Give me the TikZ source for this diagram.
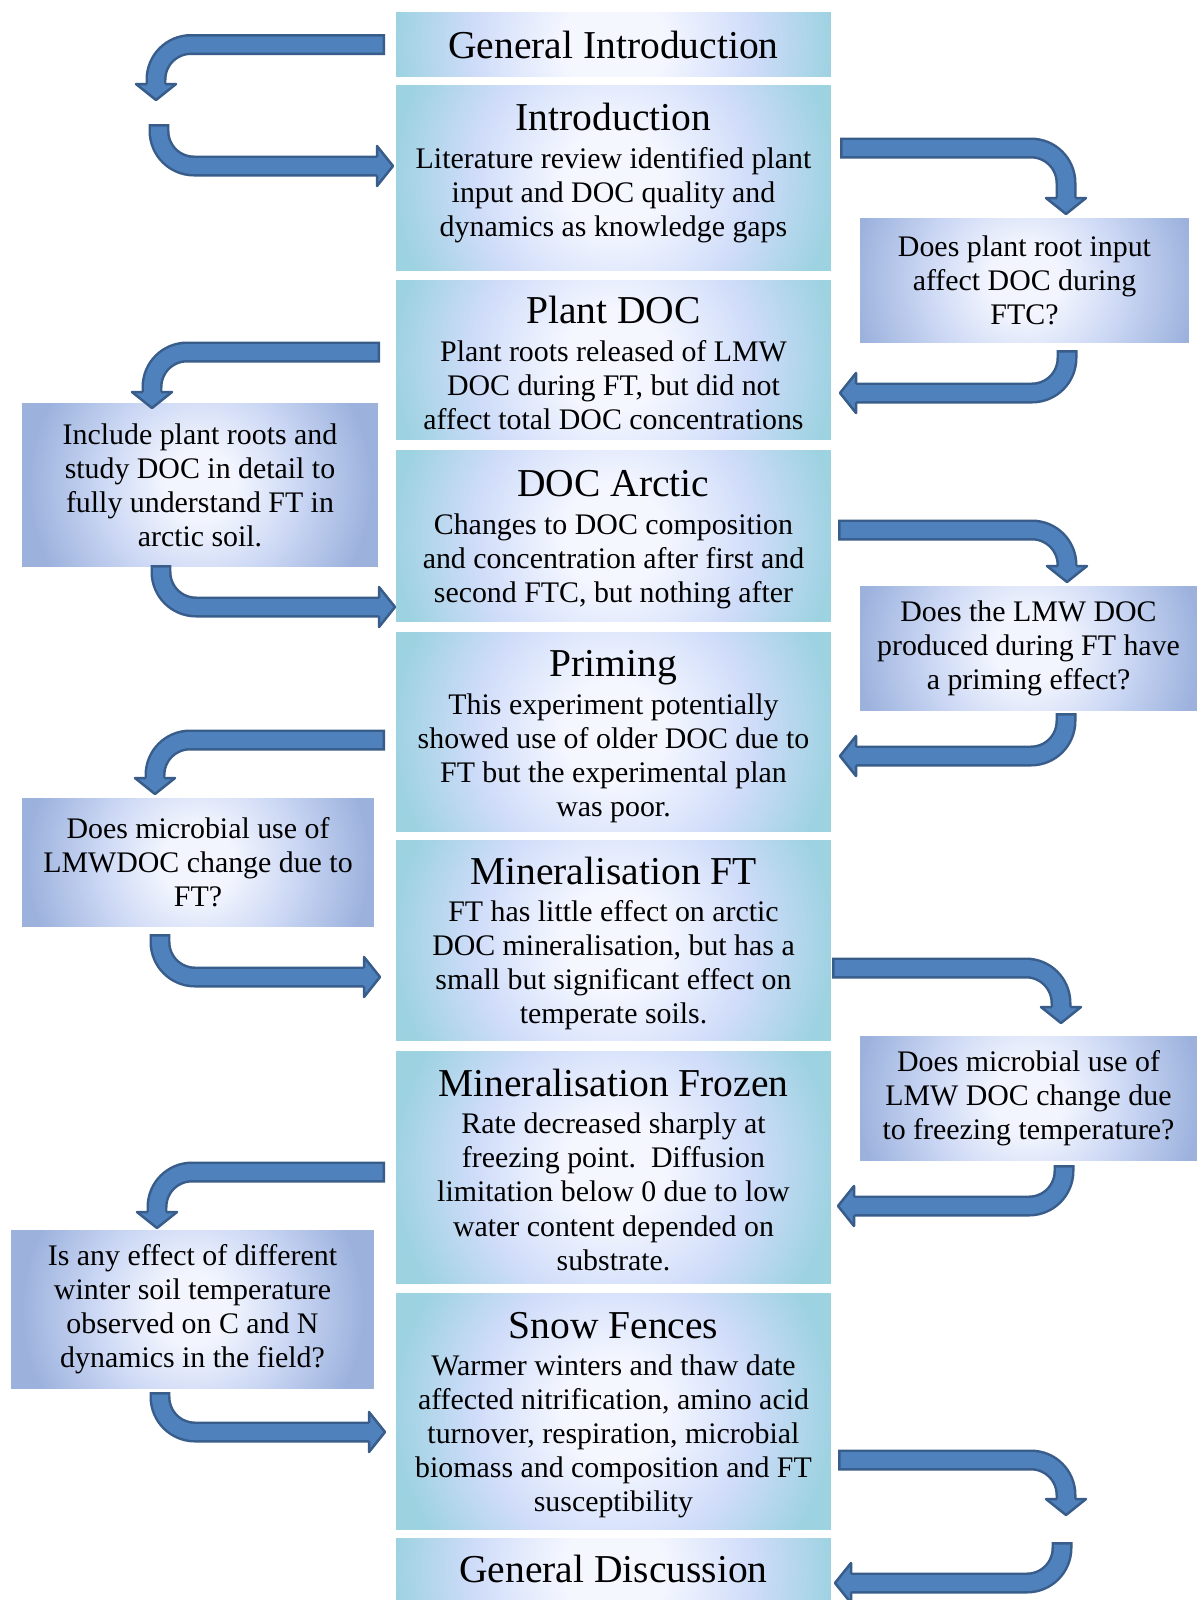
\documentclass[tikz,border=0pt]{standalone}
\usepackage{fontspec}
\setmainfont{Liberation Serif}
\usepackage{tikz}
\usetikzlibrary{calc}

\definecolor{boxEdge}{RGB}{157,210,225}
\definecolor{boxLav}{RGB}{207,220,249}
\definecolor{boxMid}{RGB}{245,247,255}
\definecolor{askEdge}{RGB}{156,178,221}
\definecolor{askLt}{RGB}{203,215,244}
\definecolor{askMid}{RGB}{242,245,254}
\definecolor{arrowFill}{RGB}{79,129,189}
\definecolor{arrowLine}{RGB}{56,93,138}

\pgfdeclareradialshading{boxglow}{\pgfpoint{0bp}{0bp}}{color(0bp)=(boxMid); color(5bp)=(boxMid); color(14bp)=(boxLav); color(22bp)=(boxEdge); color(50bp)=(boxEdge)}
\pgfdeclareradialshading{askglow}{\pgfpoint{0bp}{0bp}}{color(0bp)=(askMid); color(4bp)=(askMid); color(11bp)=(askLt); color(19bp)=(askEdge); color(50bp)=(askEdge)}

\newcommand{\boxtitle}{\fontsize{22.5pt}{26pt}\selectfont}
\newcommand{\boxtext}{\fontsize{17pt}{19.4pt}\selectfont}

\newcommand{\bentarrow}[3]{%
	\coordinate (hb) at ($(#3)!0.32cm!(#2)$);
	\draw[arrowedge, line width=0.42cm] (#1) [rounded corners=0.7cm] -- (#2) -- (hb);
	\draw[arrowbody, line width=0.32cm, shorten <=0.05cm] (#1) [rounded corners=0.7cm] -- (#2) -- ($(hb)!0.03cm!(#3)$);
	\fill[arrowbody] ($(hb)!0.4cm!90:(#3)$) -- (#3) -- ($(hb)!0.4cm!-90:(#3)$) -- cycle;
	\draw[arrowedge, line width=0.05cm, line join=round] ($(hb)!0.185cm!90:(#3)$) -- ($(hb)!0.4cm!90:(#3)$) -- (#3) -- ($(hb)!0.4cm!-90:(#3)$) -- ($(hb)!0.185cm!-90:(#3)$);
}

\begin{document}
\begin{tikzpicture}[x=0.02cm, y=-0.02cm,
		mainbox/.style={rectangle, inner sep=0pt, minimum width=8.7cm, align=center, font=\boxtext,
			path picture={\shade[shading=boxglow] (path picture bounding box.center) circle[radius=5cm];}},
		askbox/.style={rectangle, inner sep=0pt, align=center, font=\boxtext,
			path picture={\shade[shading=askglow] (path picture bounding box.center) circle[radius=4.5cm];}},
		arrowedge/.style={color=arrowLine},
		arrowbody/.style={color=arrowFill}]
	\useasboundingbox (0,0) rectangle (1197,1600);
	\fill[white] (0,0) rectangle (1197,1600);

	\node[mainbox, minimum height=1.3cm] (0) at (613.5,44.5) {\boxtitle General Introduction};
	\node[mainbox, minimum height=3.72cm] (1) at (613.5,178) {{\boxtitle Introduction}\\[2pt] Literature review identified plant\\ input and DOC quality and\\ dynamics as knowledge gaps\rule[-9.5pt]{0pt}{1pt}};
	\node[mainbox, minimum height=3.2cm] (2) at (613.5,360) {{\boxtitle\rule{0pt}{19pt}Plant DOC}\\[2pt] Plant roots released of LMW\\ DOC during FT, but did not\\ affect total DOC concentrations};
	\node[mainbox, minimum height=3.44cm] (3) at (613.5,536) {{\boxtitle\rule{0pt}{19pt}DOC Arctic}\\[2pt] Changes to DOC composition\\ and concentration after first and\\ second FTC, but nothing after};
	\node[mainbox, minimum height=4.0cm] (4) at (613.5,732) {{\boxtitle\rule{0pt}{20pt}Priming}\\[2pt] This experiment potentially\\ showed use of older DOC due to\\ FT but the experimental plan\\ was poor.};
	\node[mainbox, minimum height=4.02cm] (5) at (613.5,940.5) {{\boxtitle\rule{0pt}{19pt}Mineralisation FT}\\[2pt] FT has little effect on arctic\\ DOC mineralisation, but has a\\ small but significant effect on\\ temperate soils.};
	\node[mainbox, minimum height=4.66cm] (6) at (613.5,1167.5) {{\boxtitle\rule{0pt}{18pt}Mineralisation Frozen}\\[2pt] Rate decreased sharply at\\ freezing point.\ \ Diffusion\\ limitation below 0 due to low\\ water content depended on\\ substrate.};
	\node[mainbox, minimum height=4.74cm] (7) at (613.5,1411.5) {{\boxtitle\rule{0pt}{19pt}Snow Fences}\\[2pt] Warmer winters and thaw date\\ affected nitrification, amino acid\\ turnover, respiration, microbial\\ biomass and composition and FT\\ susceptibility};
	\node[mainbox, minimum height=1.24cm] (8) at (613.5,1569) {\boxtitle General Discussion};

	\node[askbox, minimum width=6.58cm, minimum height=2.5cm] (q1) at (1024.5,280.5) {Does plant root input\\ affect DOC during\\ FTC?};
	\node[askbox, minimum width=7.12cm, minimum height=3.28cm] (q2) at (200,485) {Include plant roots and\\ study DOC in detail to\\ fully understand FT in\\ arctic soil.};
	\node[askbox, minimum width=6.74cm, minimum height=2.5cm] (q3) at (1028.5,648.5) {Does the LMW DOC\\ produced during FT have\\ a priming effect?};
	\node[askbox, minimum width=7.04cm, minimum height=2.56cm] (q4) at (198,862) {Does microbial use of\\ LMWDOC change due to\\ FT?};
	\node[askbox, minimum width=6.74cm, minimum height=2.48cm] (q5) at (1028.5,1098) {Does microbial use of\\ LMW DOC change due\\ to freezing temperature?};
	\node[askbox, minimum width=7.26cm, minimum height=3.16cm] (q6) at (192.5,1309) {Is any effect of different\\ winter soil temperature\\ observed on C and N\\ dynamics in the field?};

	\coordinate (a1) at (385,44.5);   \coordinate (a1t) at (156,100);
	\coordinate (a2) at (159,124);    \coordinate (a2t) at (393,166);
	\coordinate (a3) at (380,352);    \coordinate (a3t) at (152,408);
	\coordinate (a4) at (161,565);    \coordinate (a4t) at (395,607);
	\coordinate (a5) at (385,740);    \coordinate (a5t) at (155,794);
	\coordinate (a6) at (160,934);    \coordinate (a6t) at (380,977);
	\coordinate (a7) at (385,1172);   \coordinate (a7t) at (157,1228);
	\coordinate (a8) at (160,1392);   \coordinate (a8t) at (385,1432);
	\coordinate (b1) at (840,148);    \coordinate (b1t) at (1066,214);
	\coordinate (b2) at (1067,350);   \coordinate (b2t) at (840,393);
	\coordinate (b3) at (838,530);    \coordinate (b3t) at (1067,582);
	\coordinate (b4) at (1066,713);   \coordinate (b4t) at (840,756);
	\coordinate (b5) at (832,968);    \coordinate (b5t) at (1061,1023);
	\coordinate (b6) at (1064,1165);  \coordinate (b6t) at (838,1206);
	\coordinate (b7) at (838,1460);   \coordinate (b7t) at (1066,1515);
	\coordinate (b8) at (1062,1542);  \coordinate (b8t) at (835,1583);

	\bentarrow{a1}{a1t |- a1}{a1t}
	\bentarrow{a2}{a2 |- a2t}{a2t}
	\bentarrow{a3}{a3t |- a3}{a3t}
	\bentarrow{a4}{a4 |- a4t}{a4t}
	\bentarrow{a5}{a5t |- a5}{a5t}
	\bentarrow{a6}{a6 |- a6t}{a6t}
	\bentarrow{a7}{a7t |- a7}{a7t}
	\bentarrow{a8}{a8 |- a8t}{a8t}
	\bentarrow{b1}{b1t |- b1}{b1t}
	\bentarrow{b2}{b2 |- b2t}{b2t}
	\bentarrow{b3}{b3t |- b3}{b3t}
	\bentarrow{b4}{b4 |- b4t}{b4t}
	\bentarrow{b5}{b5t |- b5}{b5t}
	\bentarrow{b6}{b6 |- b6t}{b6t}
	\bentarrow{b7}{b7t |- b7}{b7t}
	\bentarrow{b8}{b8 |- b8t}{b8t}
\end{tikzpicture}
\end{document}
